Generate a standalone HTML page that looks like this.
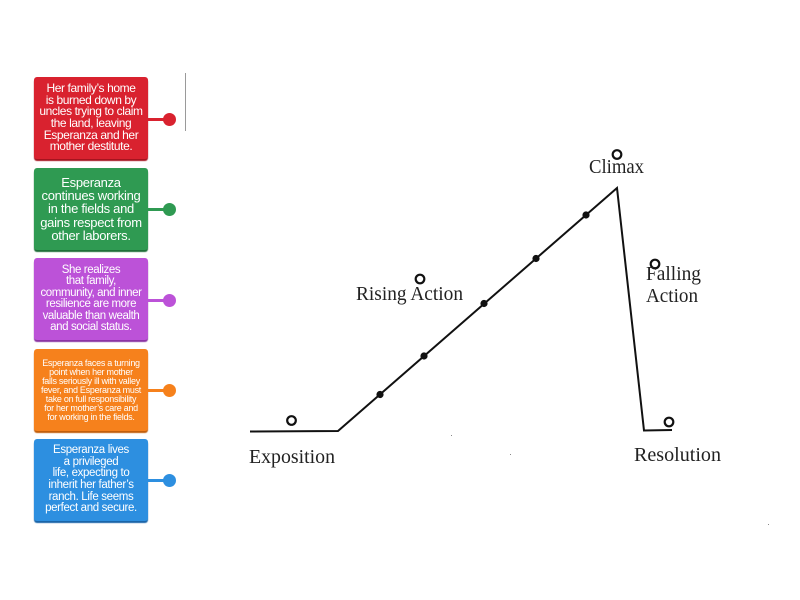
<!DOCTYPE html>
<html>
<head>
<meta charset="utf-8">
<style>
  html,body{margin:0;padding:0;background:#fff;}
  body{width:800px;height:600px;position:relative;overflow:hidden;font-family:"Liberation Sans",sans-serif;}
  .card{position:absolute;left:34px;width:114px;height:82px;border-radius:3px;color:#fff;display:flex;align-items:center;justify-content:center;text-align:center;white-space:nowrap;}
  .conn{position:absolute;left:147px;width:18px;height:3px;}
  .dot{position:absolute;width:13px;height:13px;border-radius:50%;left:163px;}
  .c1{background:#d9222f;box-shadow:0 2px 1px #a5141f;}
  .c2{background:#2f9a52;box-shadow:0 2px 1px #1f6f39;}
  .c3{background:#bc52d8;box-shadow:0 2px 1px #8b35a3;}
  .c4{background:#f6811c;box-shadow:0 2px 1px #c25f0c;}
  .c5{background:#2d8fe0;box-shadow:0 2px 1px #1b65a8;}
</style>
</head>
<body>
<div class="card c1" style="top:77px;font-size:12px;letter-spacing:-0.4px;line-height:11.7px;">Her family’s home<br>is burned down by<br>uncles trying to claim<br>the land, leaving<br>Esperanza and her<br>mother destitute.</div>
<div class="conn" style="top:117.5px;background:#d9222f"></div>
<div class="dot" style="top:112.5px;background:#d9222f"></div>

<div class="card c2" style="top:168px;font-size:13px;letter-spacing:-0.3px;line-height:13.2px;">Esperanza<br>continues working<br>in the fields and<br>gains respect from<br>other laborers.</div>
<div class="conn" style="top:207.5px;background:#2f9a52"></div>
<div class="dot" style="top:202.5px;background:#2f9a52"></div>

<div class="card c3" style="top:258px;font-size:11.5px;letter-spacing:-0.4px;line-height:11.5px;">She realizes<br>that family,<br>community, and inner<br>resilience are more<br>valuable than wealth<br>and social status.</div>
<div class="conn" style="top:298.5px;background:#bc52d8"></div>
<div class="dot" style="top:293.5px;background:#bc52d8"></div>

<div class="card c4" style="top:349px;font-size:9px;letter-spacing:-0.28px;line-height:9px;">Esperanza faces a turning<br>point when her mother<br>falls seriously ill with valley<br>fever, and Esperanza must<br>take on full responsibility<br>for her mother’s care and<br>for working in the fields.</div>
<div class="conn" style="top:388.5px;background:#f6811c"></div>
<div class="dot" style="top:383.5px;background:#f6811c"></div>

<div class="card c5" style="top:439px;font-size:11.5px;letter-spacing:-0.35px;line-height:11.7px;">Esperanza lives<br>a privileged<br>life, expecting to<br>inherit her father’s<br>ranch. Life seems<br>perfect and secure.</div>
<div class="conn" style="top:478.5px;background:#2d8fe0"></div>
<div class="dot" style="top:473.5px;background:#2d8fe0"></div>

<svg width="800" height="600" style="position:absolute;left:0;top:0" xmlns="http://www.w3.org/2000/svg">
  <line x1="185.5" y1="73" x2="185.5" y2="131" stroke="#9a9a9a" stroke-width="1"/>
  <polyline points="250,431.5 338,431 617,188 644,430.5 672,430" fill="none" stroke="#111" stroke-width="2" stroke-linejoin="miter"/>
  <g fill="#111">
    <circle cx="380" cy="394.5" r="3.6"/>
    <circle cx="424" cy="356" r="3.6"/>
    <circle cx="484" cy="303.5" r="3.6"/>
    <circle cx="536" cy="258.5" r="3.6"/>
    <circle cx="586" cy="215" r="3.6"/>
  </g>
  <g fill="none" stroke="#111" stroke-width="2.2">
    <circle cx="291.5" cy="420.5" r="4.3"/>
    <circle cx="420" cy="279" r="4.3"/>
    <circle cx="617" cy="154.5" r="4.3"/>
    <circle cx="655" cy="264" r="4.3"/>
    <circle cx="669" cy="422" r="4.3"/>
  </g>
  <g font-family="Liberation Serif, serif" font-size="19.5" fill="#222">
    <text x="249" y="463" textLength="86" lengthAdjust="spacingAndGlyphs">Exposition</text>
    <text x="356" y="300" textLength="107" lengthAdjust="spacingAndGlyphs">Rising Action</text>
    <text x="589" y="173" textLength="55" lengthAdjust="spacingAndGlyphs">Climax</text>
    <text x="646" y="280" textLength="55" lengthAdjust="spacingAndGlyphs">Falling</text>
    <text x="646" y="302" textLength="52" lengthAdjust="spacingAndGlyphs">Action</text>
    <text x="634" y="461" textLength="87" lengthAdjust="spacingAndGlyphs">Resolution</text>
  </g>
  <g fill="#888">
    <rect x="451" y="435" width="1" height="1"/>
    <rect x="510" y="454" width="1" height="1"/>
    <rect x="768" y="524" width="1" height="1"/>
  </g>
</svg>
</body>
</html>
